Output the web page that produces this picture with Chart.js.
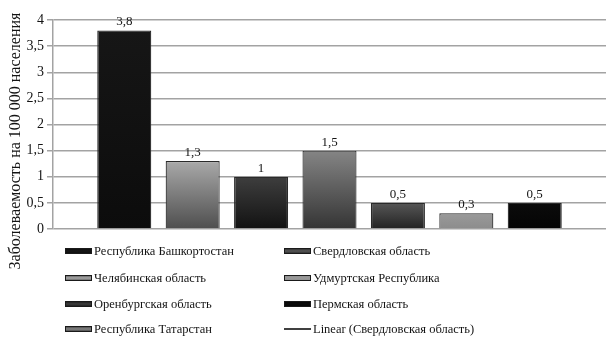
<!DOCTYPE html>
<html>
<head>
<meta charset="utf-8">
<script src="https://cdn.jsdelivr.net/npm/chart.js@4/dist/chart.umd.min.js"></script>
<style>
  html, body { margin: 0; padding: 0; background: #fff; }
  #wrap { width: 606px; height: 338px; position: relative; }
</style>
</head>
<body>
<div id="wrap"><canvas id="c"></canvas></div>
<script>
// Regions and incidence per 100 000 population
const regions = [
  'Республика Башкортостан',
  'Челябинская область',
  'Оренбургская область',
  'Республика Татарстан',
  'Свердловская область',
  'Удмуртская Республика',
  'Пермская область'
];
const incidence = [3.8, 1.3, 1, 1.5, 0.5, 0.3, 0.5];
const trendLabel = 'Linear (Свердловская область)';
const yTitle = 'Заболеваемость на 100 000 населения';
const yMax = 4;
const yStep = 0.5;

// Fill shades (top of bar -> bottom of bar)
const shadeTop    = ['#161616', '#a9a9a9', '#3e3e3e', '#858585', '#575757', '#9a9a9a', '#0b0b0b'];
const shadeBottom = ['#0c0c0c', '#4e4e4e', '#121212', '#343434', '#222222', '#8c8c8c', '#050505'];

const SERIF = '"Liberation Serif", "Times New Roman", serif';
const INK = '#141414';
const comma = v => String(v).replace('.', ',');

function barFill(i) {
  return ctx => {
    const chart = ctx.chart;
    const area = chart.chartArea;
    if (!area) return shadeTop[i];
    const top = chart.scales.y.getPixelForValue(incidence[i]);
    const g = chart.ctx.createLinearGradient(0, top, 0, area.bottom);
    g.addColorStop(0, shadeTop[i]);
    g.addColorStop(1, shadeBottom[i]);
    return g;
  };
}

const datasets = regions.map((name, i) => ({
  type: 'bar',
  label: name,
  data: [incidence[i]],
  backgroundColor: barFill(i),
  borderColor: '#2a2a2a',
  borderWidth: 1.2,
  categoryPercentage: 0.866,
  barPercentage: 0.79
}));
datasets.push({ type: 'line', label: trendLabel, data: [], borderColor: '#000', borderWidth: 1.5 });

// Value captions above each bar
const valueLabels = {
  id: 'valueLabels',
  afterDatasetsDraw(chart) {
    const c = chart.ctx;
    c.save();
    c.font = '13px ' + SERIF;
    c.fillStyle = INK;
    c.textAlign = 'center';
    c.textBaseline = 'bottom';
    chart.data.datasets.forEach((ds, i) => {
      if (ds.type !== 'bar') return;
      const el = chart.getDatasetMeta(i).data[0];
      if (!el) return;
      c.fillText(comma(ds.data[0]), el.x, el.y - 2);
    });
    c.restore();
  }
};

// Rotated y-axis title
const axisTitle = {
  id: 'axisTitle',
  afterDraw(chart) {
    const c = chart.ctx;
    c.save();
    c.translate(16, 141);
    c.rotate(-Math.PI / 2);
    c.font = '16px ' + SERIF;
    c.fillStyle = INK;
    c.textAlign = 'center';
    c.textBaseline = 'middle';
    c.fillText(yTitle, 0, 0);
    c.restore();
  }
};

// Two-column legend under the plot
const twoColLegend = {
  id: 'twoColLegend',
  afterDraw(chart) {
    const c = chart.ctx;
    const cols = [65, 284];
    const rows = [251, 278, 304, 329];
    const sw = 27, sh = 6;
    c.save();
    c.font = '12.5px ' + SERIF;
    c.textBaseline = 'middle';
    c.textAlign = 'left';
    chart.data.datasets.forEach((ds, i) => {
      const x = cols[Math.floor(i / 4)];
      const y = rows[i % 4];
      if (ds.type === 'bar') {
        const g = c.createLinearGradient(0, y - sh / 2, 0, y + sh / 2);
        g.addColorStop(0, shadeBottom[i]);
        g.addColorStop(0.5, shadeTop[i]);
        g.addColorStop(1, shadeBottom[i]);
        c.fillStyle = g;
        c.fillRect(x, y - sh / 2, sw, sh);
        c.strokeStyle = '#1a1a1a';
        c.lineWidth = 1;
        c.strokeRect(x + 0.5, y - sh / 2 + 0.5, sw - 1, sh - 1);
      } else {
        c.strokeStyle = '#000';
        c.lineWidth = 1.5;
        c.beginPath();
        c.moveTo(x, y);
        c.lineTo(x + sw, y);
        c.stroke();
      }
      c.fillStyle = INK;
      c.fillText(ds.label, x + sw + 2, y + 1);
    });
    c.restore();
  }
};

new Chart(document.getElementById('c'), {
  data: { labels: [''], datasets },
  options: {
    responsive: true,
    maintainAspectRatio: false,
    animation: false,
    layout: { padding: { top: 20, bottom: 109, left: 0, right: -4 } },
    plugins: { legend: { display: false }, tooltip: { enabled: false } },
    scales: {
      x: { display: false },
      y: {
        min: 0,
        max: yMax,
        afterFit(scale) { scale.width = 53; },
        ticks: {
          stepSize: yStep,
          padding: 3,
          color: INK,
          font: { family: SERIF, size: 14 },
          callback: v => comma(v)
        },
        grid: { color: '#a3a3a3', lineWidth: 1.5, tickLength: 6 },
        border: { color: '#a3a3a3', width: 1.5 }
      }
    }
  },
  plugins: [valueLabels, axisTitle, twoColLegend]
});
</script>
</body>
</html>
